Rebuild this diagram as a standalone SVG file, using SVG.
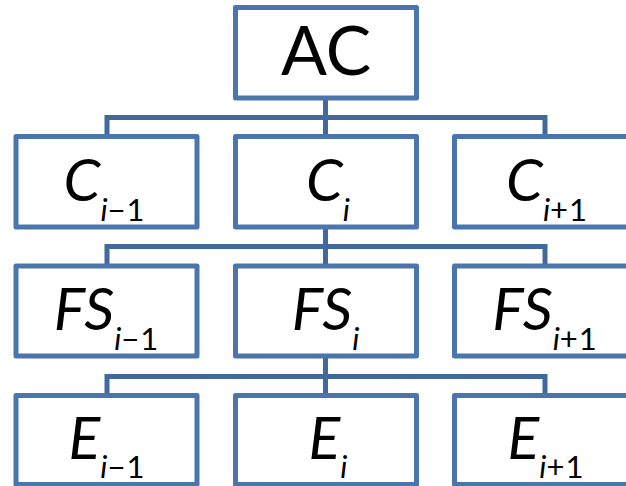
<svg xmlns="http://www.w3.org/2000/svg" width="626" height="486" viewBox="0 0 626 486">
<style>
.box{fill:#fff;stroke:#4a76ad;stroke-width:5;stroke-linejoin:round}
.con{fill:none;stroke:#41699c;stroke-width:5;stroke-linejoin:miter}
text{font-family:Lato,"Open Sans",sans-serif;fill:#000;text-anchor:middle}
.up{font-size:68px}
.m{font-size:59px;font-style:italic}
.s{font-size:31px}
.i{font-style:italic}
.n{font-style:normal;letter-spacing:1px}
</style>
<rect width="626" height="486" fill="#fff"/>
<g id="connectors">
<path class="con" d="M325.5,97.5V117.5M107,136.5V117.5H545V136.5M325.5,117.5V136.5"/>
<path class="con" d="M325.5,227V246.5M107,266V246.5H545V266M325.5,246.5V266"/>
<path class="con" d="M325.5,356V376.5M107,395.5V376.5H545V395.5M325.5,376.5V395.5"/>
</g>
<g id="AC"><rect class="box" x="235.5" y="7.5" width="181" height="90.5"/><text class="up" x="326" y="74.5">AC</text></g>
<g id="C_im1"><rect class="box" x="16" y="136.5" width="181" height="90.5"/><text class="m" x="104.5" y="201">C<tspan class="s i" dy="20">i</tspan><tspan class="s n">−1</tspan></text></g>
<g id="C_i"><rect class="box" x="235.5" y="136.5" width="181" height="90.5"/><text class="m" x="328" y="201">C<tspan class="s i" dy="20">i</tspan></text></g>
<g id="C_ip1"><rect class="box" x="454.5" y="136.5" width="181" height="90.5"/><text class="m" x="547" y="201">C<tspan class="s i" dy="20">i</tspan><tspan class="s n">+1</tspan></text></g>
<g id="FS_im1"><rect class="box" x="16" y="266" width="181" height="90"/><text class="m" x="106.5" y="330">FS<tspan class="s i" dy="20">i</tspan><tspan class="s n">−1</tspan></text></g>
<g id="FS_i"><rect class="box" x="235.5" y="266" width="181" height="90"/><text class="m" x="325.5" y="330">FS<tspan class="s i" dy="20">i</tspan></text></g>
<g id="FS_ip1"><rect class="box" x="454.5" y="266" width="181" height="90"/><text class="m" x="545" y="330">FS<tspan class="s i" dy="20">i</tspan><tspan class="s n">+1</tspan></text></g>
<g id="E_im1"><rect class="box" x="16" y="395.5" width="181" height="89"/><text class="m" x="107" y="458.5">E<tspan class="s i" dy="19.5">i</tspan><tspan class="s n">−1</tspan></text></g>
<g id="E_i"><rect class="box" x="235.5" y="395.5" width="181" height="89"/><text class="m" x="328" y="458.5">E<tspan class="s i" dy="19.5">i</tspan></text></g>
<g id="E_ip1"><rect class="box" x="454.5" y="395.5" width="181" height="89"/><text class="m" x="546" y="458.5">E<tspan class="s i" dy="19.5">i</tspan><tspan class="s n">+1</tspan></text></g>
</svg>
